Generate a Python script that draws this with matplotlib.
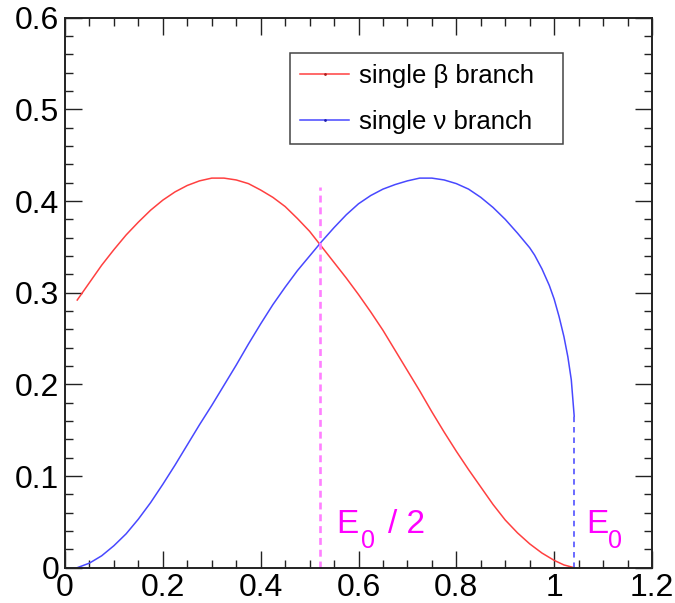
import numpy as np
import matplotlib.pyplot as plt
from matplotlib.lines import Line2D
from matplotlib.ticker import MultipleLocator, FuncFormatter

plt.rcParams['font.family'] = ['Liberation Sans', 'DejaVu Sans']
plt.rcParams['lines.scale_dashes'] = False

# single beta branch spectrum
beta_x = [0.025, 0.050, 0.075, 0.100, 0.125, 0.150, 0.175, 0.200, 0.225, 0.250,
          0.275, 0.300, 0.325, 0.350, 0.375, 0.400, 0.425, 0.450, 0.475, 0.500,
          0.525, 0.550, 0.575, 0.600, 0.625, 0.650, 0.675, 0.700, 0.725, 0.750,
          0.775, 0.800, 0.825, 0.850, 0.875, 0.900, 0.925, 0.950, 0.975, 1.000,
          1.020, 1.041]
beta_y = [0.292, 0.311, 0.330, 0.347, 0.363, 0.377, 0.390, 0.401, 0.410, 0.417,
          0.422, 0.425, 0.425, 0.423, 0.419, 0.412, 0.404, 0.394, 0.381, 0.367,
          0.350, 0.333, 0.316, 0.298, 0.279, 0.259, 0.237, 0.215, 0.193, 0.170,
          0.148, 0.127, 0.107, 0.088, 0.069, 0.052, 0.038, 0.026, 0.016, 0.008,
          0.003, 0.000]

# single neutrino branch spectrum
nu_x = [0.025, 0.050, 0.075, 0.100, 0.125, 0.150, 0.175, 0.200, 0.225, 0.250,
        0.275, 0.300, 0.325, 0.350, 0.375, 0.400, 0.425, 0.450, 0.475, 0.500,
        0.525, 0.550, 0.575, 0.600, 0.625, 0.650, 0.675, 0.700, 0.725, 0.750,
        0.775, 0.800, 0.825, 0.850, 0.875, 0.900, 0.925, 0.950, 0.960, 0.975,
        0.990, 1.000, 1.010, 1.020, 1.028, 1.035, 1.041]
nu_y = [0.000, 0.005, 0.013, 0.024, 0.037, 0.053, 0.071, 0.091, 0.112, 0.134,
        0.156, 0.177, 0.199, 0.221, 0.244, 0.266, 0.287, 0.306, 0.324, 0.340,
        0.356, 0.371, 0.385, 0.397, 0.406, 0.413, 0.418, 0.422, 0.425, 0.425,
        0.423, 0.419, 0.413, 0.404, 0.393, 0.380, 0.365, 0.349, 0.341, 0.326,
        0.308, 0.293, 0.274, 0.252, 0.230, 0.205, 0.165]

e0 = 1.041
half_top = 0.415

red = '#ff4040'
blue = '#4848ff'
magenta = '#ff00ff'

fig = plt.figure(figsize=(6.75, 6.03), dpi=100)
ax = fig.add_axes([65 / 675, 35.3 / 603, 587 / 675, 550 / 603])

ax.plot(beta_x, beta_y, color=red, lw=1.1)
ax.plot(nu_x, nu_y, color=blue, lw=1.1)

# endpoint markers
ax.plot([e0, e0], [0, nu_y[-1]], color='#6a6aff', lw=1.4, dashes=(4, 3.5))
ax.plot([e0 / 2, e0 / 2], [0, half_top], color='#ff80ff', lw=1.9, dashes=(5, 3.5))

ax.text(e0 / 2 + 0.035, 0.0375, 'E', fontsize=24, color=magenta)
ax.text(e0 / 2 + 0.085, 0.021, '0', fontsize=18, color=magenta)
ax.text(e0 / 2 + 0.140, 0.0375, '/ 2', fontsize=24, color=magenta)
ax.text(e0 + 0.024, 0.0375, 'E', fontsize=24, color=magenta)
ax.text(e0 + 0.070, 0.021, '0', fontsize=18, color=magenta)

ax.set_xlim(0, 1.2)
ax.set_ylim(0, 0.6)
ax.xaxis.set_major_locator(MultipleLocator(0.2))
ax.xaxis.set_minor_locator(MultipleLocator(0.05))
ax.yaxis.set_major_locator(MultipleLocator(0.1))
ax.yaxis.set_minor_locator(MultipleLocator(0.02))
fmt = FuncFormatter(lambda v, p: '%g' % round(v, 3))
ax.xaxis.set_major_formatter(fmt)
ax.yaxis.set_major_formatter(fmt)

ax.tick_params(which='both', direction='in', top=True, right=True, width=1.0, color='#222222')
ax.tick_params(which='major', length=12, labelsize=23)
ax.tick_params(which='minor', length=6)
ax.tick_params(axis='x', pad=4)
ax.tick_params(axis='y', pad=4)
for s in ax.spines.values():
    s.set_linewidth(1.4)
    s.set_color('#222222')

handles = [
    Line2D([], [], color=red, lw=1.1, marker='.', ms=2, mfc='#aa2020', mec='#aa2020'),
    Line2D([], [], color=blue, lw=1.1, marker='.', ms=2, mfc='#2020aa', mec='#2020aa'),
]
leg = ax.legend(handles, ['single \u03b2 branch', 'single \u03bd branch'],
                loc='upper left', bbox_to_anchor=(0.383, 0.935, 0.466, 0.0),
                mode='expand', fontsize=18.5, frameon=True, fancybox=False,
                edgecolor='#444444', framealpha=1, handlelength=1.9,
                handletextpad=0.4, borderpad=0.4, labelspacing=0.85,
                borderaxespad=0)
leg.get_frame().set_linewidth(1.1)

fig.savefig('out.png', dpi=100)
